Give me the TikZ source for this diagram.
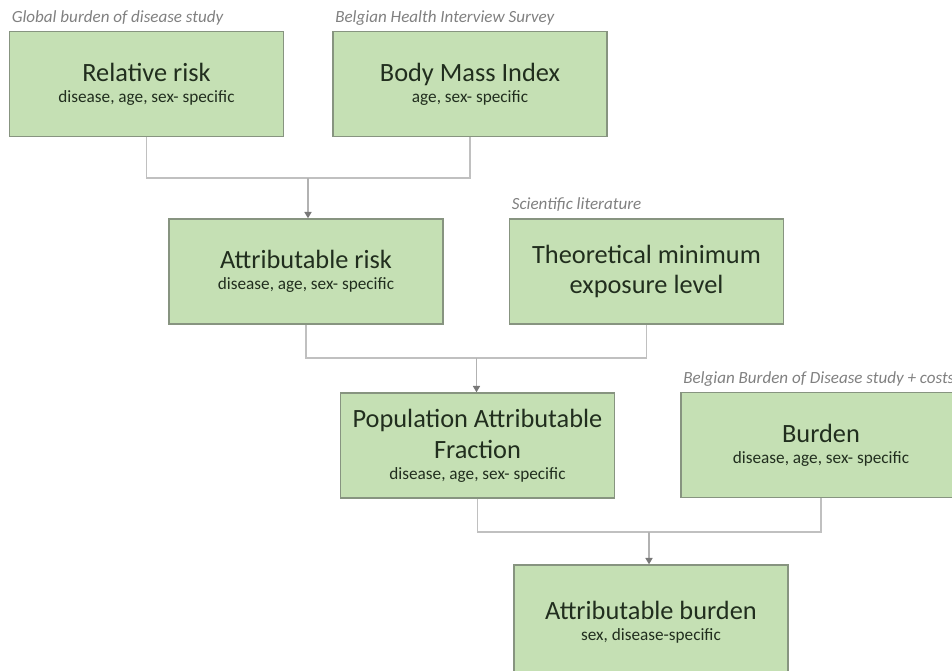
\documentclass[tikz,border=0pt]{standalone}
\usepackage{fontspec}
\setmainfont{Carlito}
\usetikzlibrary{arrows.meta}
\definecolor{boxfill}{RGB}{197,224,180}
\definecolor{boxline}{RGB}{135,148,128}
\definecolor{ink}{RGB}{33,46,30}
\definecolor{srcgray}{RGB}{128,128,128}
\definecolor{wire}{RGB}{192,192,192}
\definecolor{tipgray}{RGB}{120,120,120}
\newcommand{\spec}[1]{\\[-5.5pt]{\fontsize{9.8}{11}\selectfont #1}}

\begin{document}
\begin{tikzpicture}[x=0.02cm, y=-0.02cm,
    box/.style={rectangle, draw=boxline, fill=boxfill, line width=0.8pt,
                minimum width=5.48cm, minimum height=2.1cm, inner sep=0pt,
                align=center, text=ink, font=\fontsize{15}{17.5}\selectfont},
    src/.style={anchor=base west, inner sep=0pt, text=srcgray,
                font=\fontsize{9.7}{11}\selectfont\itshape},
    elbow/.style={draw=wire, line width=0.8pt},
    feed/.style={draw=wire!80!tipgray, line width=0.8pt,
                 -{Triangle[width=4pt, length=3.6pt, color=tipgray, fill=tipgray]}}]
  % pixel grid of the reference: 952 x 670, y running down
  \useasboundingbox (0,0) rectangle (952,670);
  % --- inputs -----------------------------------------------------------------
  \node[box] (rr)   at (146.5,84)  {Relative risk\spec{disease, age, sex- specific}};
  \node[box] (bmi)  at (470,84)    {Body Mass Index\spec{age, sex- specific}};
  \node[box] (ar)   at (306,271.5) {Attributable risk\spec{disease, age, sex- specific}};
  \node[box] (tmel) at (646.5,271.5) {Theoretical minimum\\exposure level};
  \node[box] (paf)  at (477.5,445.5) {Population Attributable\\Fraction\spec{disease, age, sex- specific}};
  % the last two run off the edge of the page
  \node[box, minimum width=5.6cm] (bur) at (821,445) {Burden\spec{disease, age, sex- specific}};
  \node[box, minimum height=2.3cm] (ab) at (651,622.5) {Attributable burden\spec{sex, disease-specific}};
  % --- where the data come from ---------------------------------------------
  \node[src] (s1) at ([xshift=1.5pt, yshift=5pt]rr.north west)   {Global burden of disease study};
  \node[src] (s2) at ([xshift=1.5pt, yshift=5pt]bmi.north west)  {Belgian Health Interview Survey};
  \node[src] (s3) at ([xshift=1.5pt, yshift=5pt]tmel.north west) {Scientific literature};
  \node[src] (s4) at ([xshift=1.5pt, yshift=5pt]bur.north west)  {Belgian Burden of Disease study + costs};
  % --- joins ----------------------------------------------------------------
  \coordinate (j1) at (308,178);
  \coordinate (j2) at (476.5,358);
  \coordinate (j3) at (649,532);
  \draw[elbow] (rr.south) |- (j1) -| (bmi.south);
  \draw[elbow] (ar.south) |- (j2) -| (tmel.south);
  \draw[elbow] (paf.south) |- (j3) -| (bur.south);
  \draw[feed] (j1) -- (j1 |- ar.north);
  \draw[feed] (j2) -- (j2 |- paf.north);
  \draw[feed] (j3) -- (j3 |- ab.north);
\end{tikzpicture}
\end{document}
